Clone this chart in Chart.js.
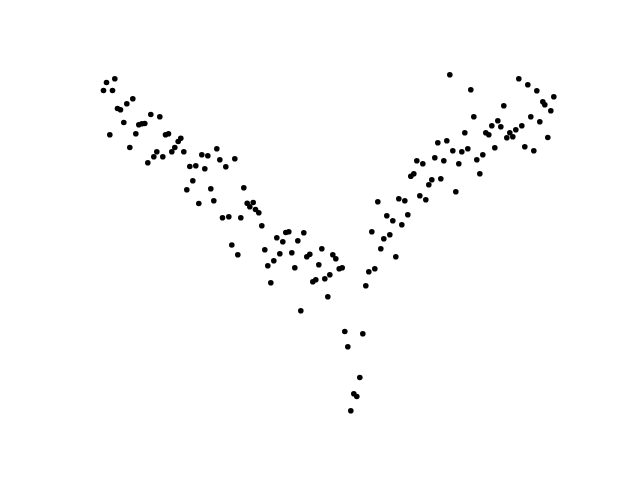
<!DOCTYPE html>
<html>
<head>
<meta charset="utf-8">
<script src="https://cdn.jsdelivr.net/npm/chart.js@4/dist/chart.umd.min.js"></script>
<style>
html,body{margin:0;padding:0;background:#fff;}
#wrap{width:640px;height:480px;}
</style>
</head>
<body>
<div id="wrap"><canvas id="c" width="640" height="480"></canvas></div>
<script>
// Scatter values (horizontal / vertical positions)
const xValues = [
106,114.3,103,112,132.3,126.3,117,120,123.3,150.3,159.3,138.3,141.3,144.3,109.3,135.3,129.3,165,168,180.3,
177.7,174.3,171.3,183.3,156.3,153.3,162.3,147.3,201.3,207.3,216.3,219.3,234.3,189.3,195.3,204.3,225.3,192.3,186.3,210.3,
243.3,198.3,213.3,246.7,249.3,252.7,255,222,228.3,240.3,231.3,258.3,261.3,237.3,264.3,276.3,285.3,288.3,282.3,303.3,
297.3,279.3,291.3,273.3,267.3,294.3,306.3,309.3,321.3,332.3,335.3,318.3,338.7,341.7,312.3,315.3,324.3,329.3,270.3,327.3,
300.3,344.3,362.3,347.3,359.3,353.3,356.3,350.3,365.3,368.3,374.3,371.3,380.3,383.3,389.3,395.3,377.3,386.3,392.3,401.3,
407.3,398.3,404.3,419.3,425.3,410.3,413.3,428.3,431.3,440.3,416.3,422.3,434.3,443.3,437.3,446.3,452.3,455.3,458.3,461.3,
467.3,464.3,476.3,449.3,470.3,518.3,527.3,536.3,553.3,542.3,544.3,550.3,503.3,473.3,530.3,539.3,497.3,500.3,491.3,485.3,
488.3,509.3,515.3,521.3,506.3,512.3,547.3,494.3,524.3,533.3,482.3,479.3
];
const yValues = [
82,78.3,90,90,98.3,103.3,108,109.3,122,114,116.3,124.3,123.3,123,134.3,133.3,147,134.3,133.3,137.7,
141,147,151.3,151.3,151.3,156.3,156.3,162.3,154.3,155.3,148.3,159.3,158.3,166,165.3,168.3,166.3,180.3,189.3,188.3,
187.3,203,200.3,202.7,206.3,202,209,217.3,216.3,217.3,244.5,212.3,225.3,254.3,249.3,237.3,232,231.3,241.3,232.3,
240.3,253.3,252.3,260.3,265.3,267.3,256.3,253.7,248.3,254.3,258.3,264.3,268.3,267.3,281.3,279.3,278.3,274.3,282.3,296.3,
310.3,331,333.3,346.3,377,393.3,396,410.3,285.3,271.3,268.3,231.3,248.3,238.3,234.3,256.3,201.3,215.3,220.3,224.3,
214.3,198.3,200.3,195.3,199.3,175.7,173.3,184.3,179.3,178.3,160.3,163.3,157.3,160.3,142.3,140.3,150.3,191.3,163.3,151.3,
148.3,132.3,159.3,74.3,89.3,78.3,84.3,90.3,96.3,101.3,104.3,110.3,105.3,116.3,116.3,121.3,120.3,126.3,125.3,132.3,
134.3,132.3,129.3,125.3,137.3,136.3,137,147.3,146.3,150.3,154.3,173.3
];

const points = xValues.map((x, i) => ({ x: x + 0.5, y: yValues[i] + 0.5 }));

new Chart(document.getElementById('c'), {
  type: 'scatter',
  data: {
    datasets: [{
      data: points,
      backgroundColor: '#000000',
      borderWidth: 0,
      pointRadius: 2.8,
      pointHoverRadius: 2.8
    }]
  },
  options: {
    responsive: false,
    animation: false,
    layout: { padding: 0, autoPadding: false },
    plugins: { legend: { display: false }, tooltip: { enabled: false } },
    scales: {
      x: { type: 'linear', display: false, min: 0, max: 640 },
      y: { type: 'linear', display: false, min: 0, max: 480, reverse: true }
    }
  }
});
</script>
</body>
</html>
